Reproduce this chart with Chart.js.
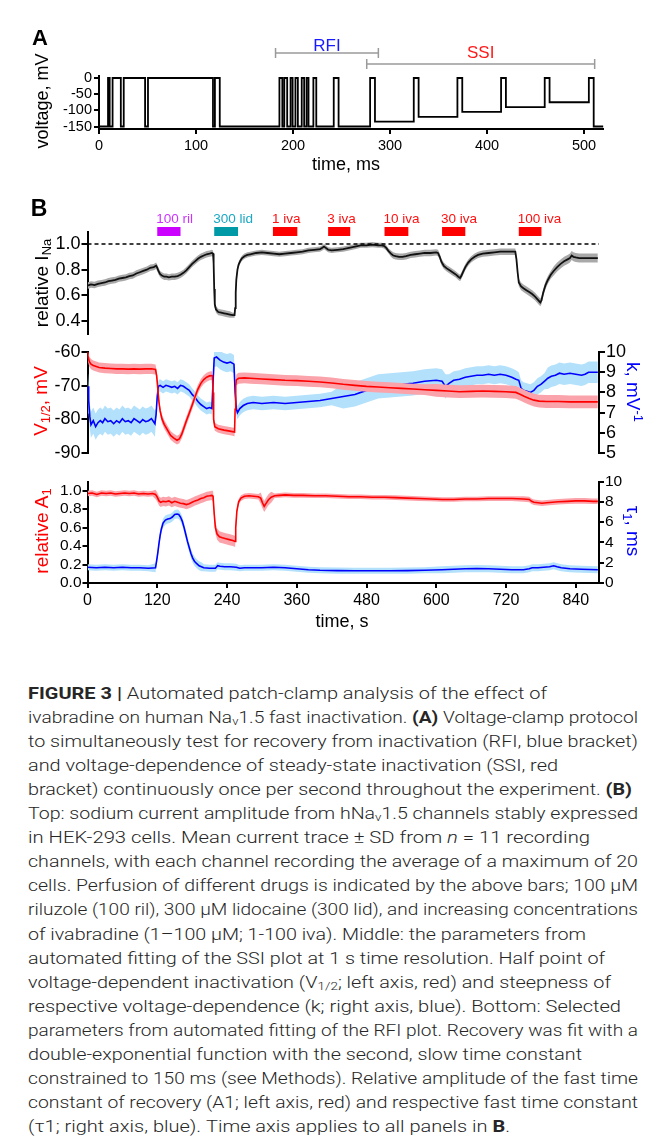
<!DOCTYPE html>
<html><head><meta charset="utf-8">
<script src="https://cdn.jsdelivr.net/npm/chart.js@4.4.1/dist/chart.umd.min.js"></script>
<style>
html,body{margin:0;padding:0;background:#fff;}
body{width:663px;height:1147px;position:relative;overflow:hidden;font-family:"Liberation Sans",Arial,sans-serif;}
canvas{position:absolute;left:0;}
.lbl{position:absolute;white-space:nowrap;line-height:1;transform:translate(-50%,-50%);}
.rl{transform:translate(-50%,-50%) rotate(-90deg);}
.rr{transform:translate(-50%,-50%) rotate(90deg);}
.lbl sub{font-size:68%;vertical-align:-0.25em;line-height:0;}
.lbl sup{font-size:68%;vertical-align:0.55em;line-height:0;}
.cap{position:absolute;left:28px;white-space:nowrap;font-family:Roboto,"Liberation Sans",sans-serif;font-weight:300;font-size:16.8px;color:#262626;line-height:24px;transform-origin:left center;}
.cap b{font-weight:700;}
.cap sub{font-size:68%;vertical-align:-0.2em;line-height:0;}
</style></head><body>
<script>
// ---------------- DATA ----------------
// Panel A: voltage protocol (step changes: time ms, level mV)
const protoT = [0,9.3,11,14,22.5,25.5,47.5,50.5,117.5,119.5,124.5,186,189,191,194,197.5,199.6,202.5,205,209,211.5,214,216,221,224,242,247,279.5,284.5,324.5,329.5,369.5,374.5,414.5,419.5,459.5,464.5,505,510,520];
const protoV = [-150,0,-150,0,-150,0,-150,0,-150,0,-150,0,-150,0,-150,0,-150,0,-150,0,-150,0,-150,0,-150,0,-150,0,-135,0,-120,0,-105,0,-90,0,-75,0,-150,-150];
const protoXTicks = [0,100,200,300,400,500];
const protoYTicks = [0,-50,-100,-150];
const bracketNames = ['RFI','SSI'];
const bracketStart = [182,276];
const bracketEnd = [288,511];

// Panel B shared
const timeTicks = [0,120,240,360,480,600,720,840];
const drugNames = ['100 ril','300 lid','1 iva','3 iva','10 iva','30 iva','100 iva'];
const drugStart = [120,218,319,414,511,610,742];
const drugEnd   = [160,259,361,452,552,650,781];

// Top: relative INa
const tIna = [0,6,12,18,24,30,36,42,48,54,60,66,72,78,84,90,96,102,108,114,118,120,122,125,128,132,136,140,145,150,155,160,165,170,175,180,185,190,195,200,205,210,214,216,217,218,219,221,225,230,235,240,245,250,253,254,255,256,258,260,263,266,270,275,280,290,300,310,320,330,340,350,360,370,380,390,400,404,407,410,414,420,430,440,450,460,470,480,490,500,506,510,514,518,522,526,530,536,542,548,556,564,572,580,590,600,603,606,609,613,618,623,628,633,638,641,643,646,650,655,660,666,672,680,690,700,710,720,730,736,738,740,742,746,750,755,760,765,770,775,779,781,784,788,792,797,802,808,814,820,826,830,833,836,840,846,852,860,868,878];
const ina = [0.675,0.685,0.68,0.69,0.695,0.70,0.71,0.715,0.72,0.73,0.735,0.74,0.75,0.755,0.77,0.78,0.79,0.80,0.815,0.82,0.83,0.815,0.79,0.765,0.755,0.745,0.745,0.74,0.745,0.745,0.75,0.76,0.775,0.795,0.82,0.845,0.865,0.885,0.90,0.91,0.92,0.925,0.93,0.925,0.85,0.65,0.53,0.49,0.47,0.465,0.46,0.455,0.45,0.445,0.445,0.50,0.62,0.72,0.80,0.84,0.87,0.89,0.905,0.915,0.92,0.93,0.935,0.93,0.925,0.92,0.925,0.93,0.935,0.94,0.95,0.955,0.96,0.97,0.98,0.97,0.955,0.95,0.955,0.96,0.97,0.98,0.99,0.99,0.995,0.99,0.99,0.985,0.97,0.945,0.925,0.91,0.905,0.90,0.90,0.905,0.915,0.92,0.925,0.93,0.93,0.935,0.93,0.90,0.86,0.83,0.81,0.795,0.78,0.765,0.745,0.735,0.75,0.78,0.82,0.855,0.88,0.90,0.915,0.925,0.93,0.935,0.94,0.94,0.94,0.94,0.88,0.78,0.70,0.67,0.655,0.64,0.625,0.61,0.59,0.565,0.545,0.56,0.62,0.68,0.72,0.76,0.79,0.82,0.845,0.865,0.88,0.89,0.91,0.90,0.895,0.89,0.89,0.89,0.89,0.89];
const inaSdT = [0,250,520,740,800];
const inaSd  = [0.025,0.02,0.025,0.03,0.035];
const inaTicks = [0.4,0.6,0.8,1.0];
const refLevel = [1.0,1.0];
const refT = [0,880];

// Middle: V1/2 (left) and k (right)
const tV = [0,1,3,6,10,15,20,30,40,50,60,70,80,90,100,110,117,119,121,123,125,128,132,137,143,148,154,158,162,166,170,175,180,185,190,195,200,205,210,215,216,217,219,225,235,245,253,254,255,256,260,270,280,300,320,340,360,380,400,420,440,460,480,500,520,540,560,580,600,620,640,660,680,700,720,737,745,752,760,768,777,790,810,830,850,878];
const v12 = [-60,-61.5,-62.8,-63.6,-64,-64.3,-64.6,-64.8,-64.9,-65,-65,-65.1,-65,-65.1,-65,-65,-65.2,-67,-71,-75,-77.5,-79.8,-81.5,-83,-84.8,-85.5,-86.2,-85.8,-84.5,-82.5,-80.5,-78.2,-75.8,-73.3,-71,-69.3,-68.2,-67.5,-67.1,-67,-72,-80,-82.2,-82.8,-83.2,-83.5,-83.8,-77,-70,-68.3,-67.8,-67.7,-67.8,-68,-68.2,-68.4,-68.5,-68.7,-68.9,-69.2,-69.6,-69.9,-70.2,-70.4,-70.6,-70.8,-71,-71.2,-71.4,-71.6,-71.8,-71.7,-71.6,-71.7,-71.8,-72,-72.6,-73.2,-73.8,-74.3,-74.6,-74.7,-74.7,-74.8,-74.8,-74.8];
const vSdT = [0,120,216,256,600];
const vSd  = [1.5,1.3,1.2,1.6,1.9];
const tK = [0,1,2,4,6,10,14,18,22,26,30,35,40,45,50,55,60,65,70,75,80,85,90,95,100,105,110,116,118,120,122,125,130,135,140,145,150,155,160,165,170,175,180,185,190,195,200,205,210,214,216,218,222,228,234,240,246,252,254,256,258,262,268,275,285,300,320,340,360,380,400,420,440,460,480,500,520,540,560,580,600,610,616,622,630,640,650,660,670,680,690,700,710,720,730,737,742,746,750,756,762,768,774,780,786,792,798,805,812,820,830,840,850,856,862,870,878];
const kVal = [7.9,8.3,7.6,6.8,6.4,6.6,6.3,6.5,6.6,6.5,6.7,6.55,6.6,6.45,6.6,6.5,6.7,6.55,6.6,6.5,6.7,6.6,6.5,6.65,6.55,6.6,6.7,6.45,6.9,7.8,8.3,8.35,8.25,8.35,8.3,8.25,8.3,8.2,8.35,8.3,8.2,8.1,7.9,7.75,7.55,7.4,7.3,7.2,7.25,7.2,8.5,9.7,9.75,9.6,9.5,9.45,9.5,9.4,8.0,7.2,7.0,7.2,7.35,7.45,7.5,7.45,7.5,7.45,7.5,7.55,7.6,7.7,7.8,7.9,8.1,8.3,8.35,8.4,8.45,8.55,8.6,8.55,8.3,8.45,8.6,8.65,8.75,8.8,8.85,8.85,8.9,8.85,8.9,8.85,8.75,8.65,8.6,8.2,8.1,8.05,8.0,8.1,8.3,8.4,8.55,8.7,8.8,8.85,8.95,8.9,8.95,8.9,8.85,8.9,9.0,9.0,9.0];
const kSdT = [0,117,216,256,440,620,740,790];
const kSd  = [0.65,0.3,0.45,0.33,0.6,0.45,0.4,0.53];
const vTicks = [-60,-70,-80,-90];
const kTicks = [5,6,7,8,9,10];

// Bottom: A1 (left) and tau1 (right)
const tA = [0,8,16,24,32,40,48,56,64,72,80,88,96,104,112,117,120,123,126,130,135,140,145,150,155,160,165,170,175,180,185,190,195,200,205,210,214,216,218,220,223,227,232,238,244,250,254,255,257,260,264,270,278,286,294,298,301,304,307,311,316,322,330,340,355,370,390,410,430,450,470,490,510,530,550,570,590,610,630,650,670,690,710,730,750,760,764,768,775,782,790,800,810,825,840,855,870,878];
const a1 = [0.97,0.975,0.96,0.975,0.97,0.975,0.965,0.97,0.975,0.97,0.975,0.965,0.97,0.965,0.97,0.96,0.93,0.89,0.875,0.885,0.88,0.89,0.87,0.885,0.875,0.865,0.86,0.85,0.86,0.875,0.89,0.90,0.915,0.925,0.94,0.945,0.95,0.94,0.75,0.60,0.53,0.50,0.49,0.48,0.47,0.46,0.45,0.60,0.78,0.88,0.92,0.94,0.945,0.94,0.935,0.92,0.87,0.83,0.86,0.90,0.93,0.945,0.95,0.955,0.95,0.95,0.945,0.945,0.94,0.935,0.935,0.93,0.93,0.925,0.92,0.915,0.91,0.905,0.905,0.91,0.91,0.915,0.915,0.915,0.91,0.905,0.885,0.875,0.87,0.865,0.87,0.875,0.88,0.885,0.89,0.89,0.885,0.885];
const a1SdT = [0,117,216,256,296,320,740];
const a1Sd  = [0.03,0.05,0.06,0.03,0.06,0.025,0.03];
const tT = [0,15,30,45,60,75,90,105,117,119,121,123,125,127,130,134,138,142,146,150,154,157,160,163,166,169,172,175,178,181,184,188,192,196,200,210,220,224,228,236,246,256,262,270,285,300,320,340,360,380,400,430,460,490,520,550,580,610,630,650,670,690,710,730,750,760,765,775,785,795,802,808,815,830,850,878];
const tau1 = [1.55,1.5,1.55,1.5,1.55,1.5,1.5,1.45,1.5,2.2,3.0,3.9,4.7,5.3,5.9,6.2,6.3,6.35,6.5,6.75,6.8,6.75,6.5,6.1,5.5,4.8,4.1,3.5,2.9,2.45,2.15,1.9,1.7,1.6,1.5,1.45,1.45,1.7,1.65,1.6,1.6,1.55,1.45,1.5,1.5,1.5,1.55,1.5,1.4,1.3,1.25,1.22,1.2,1.2,1.2,1.22,1.25,1.3,1.35,1.4,1.42,1.4,1.35,1.3,1.3,1.4,1.5,1.5,1.55,1.6,1.7,1.6,1.5,1.4,1.35,1.3];
const tauSdT = [0,117,200,260,600];
const tauSd  = [0.3,0.45,0.35,0.3,0.35];
const a1Ticks = [0,0.2,0.4,0.6,0.8,1.0];
const tauTicks = [0,2,4,6,8,10];

// ---------------- STYLE ----------------
const FONT = '"Liberation Sans", Arial, sans-serif';
Chart.defaults.font.family = FONT;
Chart.defaults.color = '#000';
const drugBarColors = ['#cc00ff','#009aa6','#ff0000','#ff0000','#ff0000','#ff0000','#ff0000'];
const drugTextColors = ['#cc33ff','#1aa8c4','#ff1010','#ff1010','#ff1010','#ff1010','#ff1010'];

// ---------------- HELPERS ----------------
const W = 663;
function mkCanvas(top, h) {
  const c = document.createElement('canvas');
  c.width = W; c.height = h;
  c.style.top = top + 'px'; c.style.width = W + 'px'; c.style.height = h + 'px';
  document.body.appendChild(c);
  return c;
}
function pts(t, v) { return t.map((x, i) => ({ x: x, y: v[i] })); }
function sdAt(segT, segV, t) { let s = segV[0]; for (let i = 0; i < segT.length; i++) if (t >= segT[i]) s = segV[i]; return s; }
function band(t, v, segT, segV, sign) { return t.map((x, i) => ({ x: x, y: v[i] + sign * sdAt(segT, segV, x) })); }
function lineDs(data, color, width, axis) {
  return { data: data, borderColor: color, borderWidth: width, pointRadius: 0, fill: false, tension: 0, yAxisID: axis || 'y' };
}
function bandDs(upper, lower, color, axis) {
  return [
    { data: upper, borderWidth: 0, borderColor: 'rgba(0,0,0,0)', backgroundColor: color, pointRadius: 0, fill: '+1', tension: 0, yAxisID: axis || 'y' },
    { data: lower, borderWidth: 0, borderColor: 'rgba(0,0,0,0)', pointRadius: 0, fill: false, tension: 0, yAxisID: axis || 'y' }
  ];
}
function axis(opts) {
  const o = {
    type: 'linear', min: opts.min, max: opts.max, display: opts.display !== false,
    position: opts.position,
    grid: { display: true, drawOnChartArea: false, drawTicks: true, tickLength: opts.tickLength || 5, tickWidth: 2, color: '#000', lineWidth: 2 },
    border: { display: true, color: '#000', width: 2 },
    ticks: { font: { size: opts.font, family: FONT }, color: '#000', padding: opts.pad != null ? opts.pad : 2, autoSkip: false, maxRotation: 0, minRotation: 0,
             callback: opts.fmt || ((v) => String(v)) }
  };
  if (opts.ticks) o.afterBuildTicks = (s) => { s.ticks = opts.ticks.map(v => ({ value: v })); };
  if (opts.width != null) o.afterFit = (s) => { s.width = opts.width; };
  if (opts.height != null) o.afterFit = (s) => { s.height = opts.height; };
  return o;
}
const baseOpts = { responsive: false, animation: false, devicePixelRatio: 1, events: [],
  plugins: { legend: { display: false }, tooltip: { enabled: false } } };
const fmt1 = (v) => Number(v).toFixed(1);

// ---------------- PANEL A ----------------
const bracketPlugin = {
  id: 'brackets',
  afterDraw(chart) {
    const ctx = chart.ctx, xs = chart.scales.x;
    const ys = [53, 64], ty = [46, 53], cols = ['#1a1aff', '#ff1a1a'];
    ctx.save();
    bracketNames.forEach((n, i) => {
      const x0 = xs.getPixelForValue(bracketStart[i]), x1 = xs.getPixelForValue(bracketEnd[i]);
      ctx.strokeStyle = '#9a9a9a'; ctx.lineWidth = 1.5;
      ctx.beginPath();
      ctx.moveTo(x0, ys[i]); ctx.lineTo(x1, ys[i]);
      ctx.moveTo(x0, ys[i] - 5); ctx.lineTo(x0, ys[i] + 5);
      ctx.moveTo(x1, ys[i] - 5); ctx.lineTo(x1, ys[i] + 5);
      ctx.stroke();
      ctx.fillStyle = cols[i]; ctx.font = '17px ' + FONT;
      ctx.textAlign = 'center'; ctx.textBaseline = 'middle';
      ctx.fillText(n, (x0 + x1) / 2, ty[i]);
    });
    ctx.restore();
  }
};
const cA = mkCanvas(0, 175);
new Chart(cA, {
  type: 'line',
  data: { datasets: [Object.assign(lineDs(pts(protoT, protoV), '#000', 1.8), { stepped: true })] },
  options: Object.assign({}, baseOpts, {
    layout: { padding: { left: 0, right: W - 603.4, top: 75.7, bottom: 0 } },
    scales: {
      x: axis({ min: 0, max: 520, font: 14.5, ticks: protoXTicks, height: 46, pad: 3 }),
      y: axis({ min: -157.7, max: 7.1, font: 14.5, ticks: protoYTicks, width: 99, pad: 2 })
    }
  }),
  plugins: [bracketPlugin]
});

// ---------------- PANEL B TOP ----------------
const drugPlugin = {
  id: 'drugs',
  afterDraw(chart) {
    const ctx = chart.ctx, xs = chart.scales.x;
    ctx.save();
    drugNames.forEach((n, i) => {
      const x0 = xs.getPixelForValue(drugStart[i]), x1 = xs.getPixelForValue(drugEnd[i]);
      ctx.fillStyle = drugBarColors[i];
      ctx.fillRect(x0, 37, x1 - x0, 9);
      ctx.fillStyle = drugTextColors[i];
      ctx.font = '13.5px ' + FONT; ctx.textAlign = 'left'; ctx.textBaseline = 'middle';
      ctx.fillText(n, x0 - 1, 29.5);
    });
    ctx.restore();
  }
};
const cT = mkCanvas(190, 170);
new Chart(cT, {
  type: 'line',
  data: { datasets: [
    Object.assign(lineDs(pts(refT, refLevel), '#000', 1.6), { borderDash: [4, 3] }),
    lineDs(pts(tIna, ina), '#111', 1.8),
    ...bandDs(band(tIna, ina, inaSdT, inaSd, 1), band(tIna, ina, inaSdT, inaSd, -1), '#a9a9a9')
  ] },
  options: Object.assign({}, baseOpts, {
    layout: { padding: { left: 0, right: W - 599, top: 42, bottom: 26 } },
    scales: {
      x: axis({ min: 0, max: 880, font: 16, display: false }),
      y: axis({ min: 0.2987, max: 1.0935, font: 18, ticks: inaTicks, width: 87.5, fmt: fmt1, pad: 1, tickLength: 6 })
    }
  }),
  plugins: [drugPlugin]
});

// ---------------- PANEL B MIDDLE ----------------
const cM = mkCanvas(320, 155);
new Chart(cM, {
  type: 'line',
  data: { datasets: [
    lineDs(pts(tV, v12), '#ff0000', 1.6, 'y'),
    ...bandDs(band(tV, v12, vSdT, vSd, 1), band(tV, v12, vSdT, vSd, -1), '#fba3aa', 'y'),
    lineDs(pts(tK, kVal), '#0000ff', 1.6, 'y2'),
    ...bandDs(band(tK, kVal, kSdT, kSd, 1), band(tK, kVal, kSdT, kSd, -1), '#b3e1fb', 'y2')
  ] },
  options: Object.assign({}, baseOpts, {
    layout: { padding: { left: 0, right: 0, top: 32, bottom: 22 } },
    scales: {
      x: axis({ min: 0, max: 880, font: 16, display: false }),
      y: axis({ min: -90, max: -60, font: 18, ticks: vTicks, width: 87.5, pad: 1, tickLength: 6 }),
      y2: axis({ min: 5, max: 10, font: 18, ticks: kTicks, width: W - 599, position: 'right', pad: 1, tickLength: 6 })
    }
  })
});

// ---------------- PANEL B BOTTOM ----------------
const cB = mkCanvas(455, 185);
new Chart(cB, {
  type: 'line',
  data: { datasets: [
    lineDs(pts(tA, a1), '#ff0000', 1.6, 'y'),
    ...bandDs(band(tA, a1, a1SdT, a1Sd, 1), band(tA, a1, a1SdT, a1Sd, -1), '#fba3aa', 'y'),
    lineDs(pts(tT, tau1), '#0000ff', 1.6, 'y2'),
    ...bandDs(band(tT, tau1, tauSdT, tauSd, 1), band(tT, tau1, tauSdT, tauSd, -1), '#b3e1fb', 'y2')
  ] },
  options: Object.assign({}, baseOpts, {
    layout: { padding: { left: 0, right: 0, top: 26.5, bottom: 0 } },
    scales: {
      x: axis({ min: 0, max: 880, font: 16, ticks: timeTicks, height: 57, pad: 3 }),
      y: axis({ min: 0, max: 1.1, font: 15.5, ticks: a1Ticks, width: 87.5, fmt: fmt1, pad: 1, tickLength: 5 }),
      y2: axis({ min: 0, max: 10, font: 15.5, ticks: tauTicks, width: W - 599, position: 'right', pad: 1, tickLength: 5 })
    }
  })
});

// ---------------- TEXT LABELS ----------------
function label(html, x, y, size, color, cls, weight) {
  const d = document.createElement('div');
  d.className = 'lbl' + (cls ? ' ' + cls : '');
  d.innerHTML = html;
  d.style.left = x + 'px'; d.style.top = y + 'px';
  d.style.fontSize = size + 'px'; d.style.color = color;
  if (weight) d.style.fontWeight = weight;
  document.body.appendChild(d);
}
label('A', 40, 38, 22, '#000', '', 'bold');
label('B', 39, 208, 23, '#000', '', 'bold');
label('voltage, mV', 42, 101, 18, '#000', 'rl');
label('time, ms', 346, 164, 18, '#000');
label('relative I<sub>Na</sub>', 41, 283, 19, '#000', 'rl');
label('V<sub>1/2</sub>, mV', 40, 401, 19, '#ff0000', 'rl');
label('k, mV<sup>-1</sup>', 633, 392, 19, '#0000ff', 'rr');
label('relative A<sub>1</sub>', 41, 531, 19, '#ff0000', 'rl');
label('τ<sub>1</sub>, ms', 633, 531, 19, '#0000ff', 'rr');
label('time, s', 342, 621, 18, '#000');

// ---------------- CAPTION ----------------
const capLines = [
  '<b>FIGURE 3 |</b> Automated patch-clamp analysis of the effect of',
  'ivabradine on human Na<sub>v</sub>1.5 fast inactivation. <b>(A)</b> Voltage-clamp protocol',
  'to simultaneously test for recovery from inactivation (RFI, blue bracket)',
  'and voltage-dependence of steady-state inactivation (SSI, red',
  'bracket) continuously once per second throughout the experiment. <b>(B)</b>',
  'Top: sodium current amplitude from hNa<sub>v</sub>1.5 channels stably expressed',
  'in HEK-293 cells. Mean current trace ± SD from <i>n</i> = 11 recording',
  'channels, with each channel recording the average of a maximum of 20',
  'cells. Perfusion of different drugs is indicated by the above bars; 100 μM',
  'riluzole (100 ril), 300 μM lidocaine (300 lid), and increasing concentrations',
  'of ivabradine (1–100 μM; 1-100 iva). Middle: the parameters from',
  'automated fitting of the SSI plot at 1 s time resolution. Half point of',
  'voltage-dependent inactivation (V<sub>1/2</sub>; left axis, red) and steepness of',
  'respective voltage-dependence (k; right axis, blue). Bottom: Selected',
  'parameters from automated fitting of the RFI plot. Recovery was fit with a',
  'double-exponential function with the second, slow time constant',
  'constrained to 150 ms (see Methods). Relative amplitude of the fast time',
  'constant of recovery (A1; left axis, red) and respective fast time constant',
  '(τ1; right axis, blue). Time axis applies to all panels in <b>B</b>.'
];
const capWidths = [519,610,610,530,604,610,562,610,610,610,558,577,583,593,610,554,610,610,482];
capLines.forEach((html, i) => {
  const d = document.createElement('div');
  d.className = 'cap';
  d.innerHTML = html;
  d.style.top = (693 + i * 24.05 - 12) + 'px';
  document.body.appendChild(d);
  const w = d.getBoundingClientRect().width;
  d.style.transform = 'scaleX(' + (capWidths[i] / w).toFixed(4) + ')';
});
</script>
</body></html>
